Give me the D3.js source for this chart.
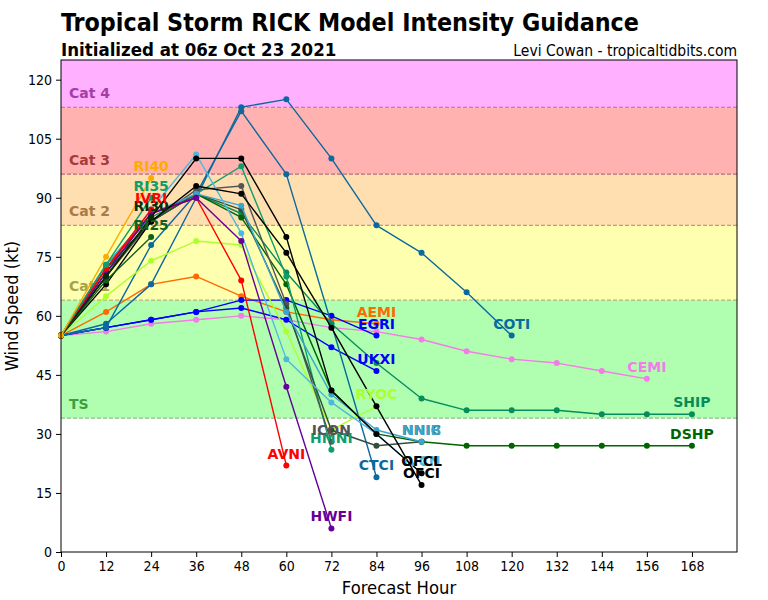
<!DOCTYPE html>
<html>
<head>
<meta charset="utf-8">
<script src="https://cdn.jsdelivr.net/npm/d3@7"></script>
<style>
body { margin: 0; background: #fff; }
text { font-family: "DejaVu Sans", sans-serif; }
.cond { font-family: "DejaVu Sans Condensed", "DejaVu Sans", sans-serif; font-stretch: condensed; }
</style>
</head>
<body>
<svg class="chart" width="768" height="600"></svg>
<script>
// forecast hours and intensity (kt) per model
var hours = [0, 12, 24, 36, 48, 60, 72, 84, 96, 108, 120, 132, 144, 156, 168];
var yTicks = [0, 15, 30, 45, 60, 75, 90, 105, 120];

var bandLevels = [34, 64, 83, 96, 113, 125];
var bandNames = ["TS", "Cat 1", "Cat 2", "Cat 3", "Cat 4"];

var ri40 = [55, 75, 95];
var ri35 = [55, 73, 90];
var ivri = [55, 72, 87];
var ri30 = [55, 70, 85];
var ri25 = [55, 69, 80];
var coti = [55, 58, 68, 90, 113, 115, 100, 83, 76, 66, 55];
var ctci = [55, 57, 78, 91, 112, 96, 58, 19];
var aemi = [55, 61, 68, 70, 65, 61, 59, 58];
var egri = [55, 57, 59, 61, 64, 64, 60, 55];
var ukxi = [55, 57, 59, 61, 62, 59, 52, 46];
var cemi = [55, 56, 58, 59, 60, 59, 57, 56, 54, 51, 49, 48, 46, 44];
var ship = [55, 72, 84, 91, 86, 71, 58, 48, 39, 36, 36, 36, 35, 35, 35];
var dshp = [55, 72, 84, 91, 85, 68, 41, 30, 28, 27, 27, 27, 27, 27, 27];
var hmni = [55, 73, 85, 91, 98, 70, 26];
var icon = [55, 70, 84, 92, 93, 63, 28];
var nnic = [55, 71, 84, 91, 87, 62, 31, 27, 28];
var nnib = [55, 73, 86, 91, 88, 61, 40, 31, 28];
var ivcn = [55, 72, 87, 101, 81, 49, 38, 30, 20];
var avni = [55, 72, 86, 90, 69, 22];
var hwfi = [55, 71, 86, 90, 79, 42, 6];
var ryoc = [55, 65, 74, 79, 78, 56, 31, 37];
var ofcl = [55, 70, 85, 100, 100, 80, 41, 30, 20];
var ofci = [55, 68, 84, 93, 91, 76, 57, 37, 17];

var models = [
	["AEMI", aemi], ["CEMI", cemi], ["EGRI", egri], ["UKXI", ukxi],
	["COTI", coti], ["CTCI", ctci], ["SHIP", ship], ["DSHP", dshp],
	["RYOC", ryoc], ["HMNI", hmni], ["ICON", icon], ["NNIC", nnic],
	["NNIB", nnib], ["IVCN", ivcn], ["AVNI", avni], ["HWFI", hwfi],
	["OFCI", ofci], ["OFCL", ofcl],
	["RI25", ri25], ["RI30", ri30], ["IVRI", ivri], ["RI35", ri35], ["RI40", ri40]
];

var modelColor = {
	AEMI: "#ff6a00", CEMI: "#f57be6", EGRI: "#0000ff", UKXI: "#0000ff",
	COTI: "#0b69a0", CTCI: "#0b69a0", SHIP: "#078c5c", DSHP: "#006400",
	RYOC: "#adff2f", HMNI: "#0f9d6b", ICON: "#555555", NNIC: "#2f4f3a",
	NNIB: "#3aa6cc", IVCN: "#4fb8de", AVNI: "#ff0000", HWFI: "#660099",
	OFCI: "#000000", OFCL: "#000000",
	RI25: "#14601a", RI30: "#062e06", IVRI: "#ff0000", RI35: "#0f9d6b", RI40: "#ffaa00"
};
var bandColor = ["#b0ffb0", "#ffffb0", "#ffdeb0", "#ffb2b0", "#ffb0ff"];
var bandText = ["#3f9f3f", "#a3a34a", "#a97a44", "#a83a3a", "#a43ea4"];
var bandLine = ["#8cbf8c", "#b4b47a", "#c09a78", "#b57070", "#b07090"];

var svg = d3.select(".chart"),
	margin = {top: 60, right: 31, bottom: 48, left: 61},
	width = +svg.attr("width") - margin.left - margin.right,
	height = +svg.attr("height") - margin.top - margin.bottom,
	g = svg.append("g").attr("transform", "translate(" + margin.left + "," + margin.top + ")");

var x = d3.scaleLinear().domain([0, 180]).range([0, width]);
var y = d3.scaleLinear().domain([0, 125]).range([height, 0]);

// intensity bands
bandNames.forEach(function(name, i) {
	g.append("rect")
		.attr("x", 0)
		.attr("width", width)
		.attr("y", y(bandLevels[i + 1]))
		.attr("height", y(bandLevels[i]) - y(bandLevels[i + 1]))
		.attr("fill", bandColor[i]);
});
bandNames.forEach(function(name, i) {
	g.append("line")
		.attr("x1", 0)
		.attr("x2", width)
		.attr("y1", y(bandLevels[i]))
		.attr("y2", y(bandLevels[i]))
		.attr("stroke", bandLine[i])
		.attr("stroke-width", 1.2)
		.attr("stroke-dasharray", "4,2");
	g.append("text")
		.attr("x", 8)
		.attr("y", y(bandLevels[i]) - 9)
		.attr("fill", bandText[i])
		.attr("font-size", "14px")
		.attr("font-weight", "bold")
		.text(name);
});

var line = d3.line()
	.x(function(d, i) { return x(hours[i]); })
	.y(function(d) { return y(d); });

models.forEach(function(m) {
	var name = m[0], vals = m[1], c = modelColor[name];
	g.append("path")
		.datum(vals)
		.attr("fill", "none")
		.attr("stroke", c)
		.attr("stroke-width", 1.4)
		.attr("stroke-linejoin", "round")
		.attr("d", line);
	g.selectAll(null)
		.data(vals)
		.enter().append("circle")
		.attr("cx", function(d, i) { return x(hours[i]); })
		.attr("cy", function(d) { return y(d); })
		.attr("r", 3)
		.attr("fill", c);
});
models.forEach(function(m) {
	var name = m[0], vals = m[1], n = vals.length - 1;
	g.append("text")
		.attr("x", x(hours[n]))
		.attr("y", y(vals[n] + 3))
		.attr("dy", "0.35em")
		.attr("text-anchor", "middle")
		.attr("fill", modelColor[name])
		.attr("font-size", "14px")
		.attr("font-weight", "bold")
		.text(name);
});

// frame and axes
g.append("rect")
	.attr("width", width)
	.attr("height", height)
	.attr("fill", "none")
	.attr("stroke", "#000")
	.attr("stroke-width", 1);

var bot = g.append("g")
	.attr("transform", "translate(0," + height + ")")
	.call(d3.axisBottom(x).tickValues(hours).tickSize(5).tickPadding(4));
var left = g.append("g")
	.call(d3.axisLeft(y).tickValues(yTicks).tickSize(5).tickPadding(4));
[bot, left].forEach(function(a) {
	a.select(".domain").remove();
	a.selectAll("text").attr("class", "cond").attr("font-size", "14px").attr("font-family", null).attr("fill", "#000");
	a.selectAll("line").attr("stroke", "#000");
});

g.append("text")
	.attr("class", "cond")
	.attr("x", width / 2)
	.attr("y", height + 42)
	.attr("text-anchor", "middle")
	.attr("font-size", "18.3px")
	.text("Forecast Hour");
g.append("text")
	.attr("class", "cond")
	.attr("transform", "translate(-43," + (height / 2) + ") rotate(-90)")
	.attr("text-anchor", "middle")
	.attr("font-size", "18px")
	.text("Wind Speed (kt)");

svg.append("text")
	.attr("class", "cond")
	.attr("x", 61)
	.attr("y", 31)
	.attr("font-size", "24.8px")
	.attr("font-weight", "bold")
	.text("Tropical Storm RICK Model Intensity Guidance");
svg.append("text")
	.attr("class", "cond")
	.attr("x", 61)
	.attr("y", 56)
	.attr("font-size", "18.5px")
	.attr("font-weight", "bold")
	.text("Initialized at 06z Oct 23 2021");
svg.append("text")
	.attr("class", "cond")
	.attr("x", 737)
	.attr("y", 56)
	.attr("text-anchor", "end")
	.attr("font-size", "15.5px")
	.text("Levi Cowan - tropicaltidbits.com");
</script>
</body>
</html>
